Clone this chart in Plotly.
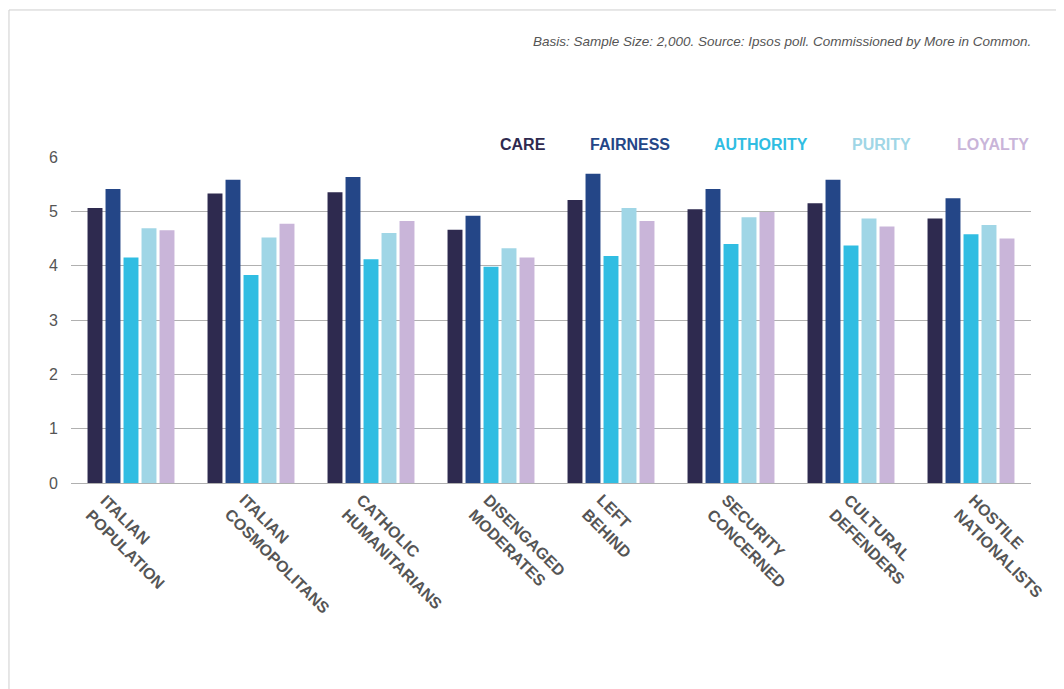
import plotly.graph_objects as go

categories = ["ITALIAN<br>POPULATION", "ITALIAN<br>COSMOPOLITANS", "CATHOLIC<br>HUMANITARIANS",
              "DISENGAGED<br>MODERATES", "LEFT<br>BEHIND", "SECURITY<br>CONCERNED",
              "CULTURAL<br>DEFENDERS", "HOSTILE<br>NATIONALISTS"]
series_names = ["CARE", "FAIRNESS", "AUTHORITY", "PURITY", "LOYALTY"]
care = [5.06, 5.33, 5.35, 4.66, 5.21, 5.04, 5.15, 4.87]
fairness = [5.41, 5.58, 5.63, 4.92, 5.69, 5.41, 5.58, 5.24]
authority = [4.15, 3.83, 4.12, 3.98, 4.18, 4.40, 4.37, 4.58]
purity = [4.69, 4.52, 4.60, 4.32, 5.06, 4.89, 4.87, 4.75]
loyalty = [4.65, 4.77, 4.82, 4.15, 4.82, 4.99, 4.72, 4.50]
colors = ["#2e2a4f", "#244687", "#30bde2", "#a0d6e6", "#c9b5d9"]
y_ticks = [0, 1, 2, 3, 4, 5, 6]

FONT = "Liberation Sans, Arial, sans-serif"

fig = go.Figure()
for name, vals, col in zip(series_names, [care, fairness, authority, purity, loyalty], colors):
    fig.add_trace(go.Bar(x=categories, y=vals, name=name, marker=dict(color=col, line=dict(width=0)),
                         showlegend=False))

# rotated category labels (placed as annotations to match reference offsets)
label_dx = [-50, -31, -34, -27, -34, -29, -26, -22]
for cat, dx in zip(categories, label_dx):
    fig.add_annotation(text="<b>%s</b>" % cat, x=cat, y=0, xref="x", yref="paper",
                       xanchor="left", yanchor="top", xshift=dx, yshift=-7, textangle=45,
                       align="left", showarrow=False, borderpad=0,
                       font=dict(family=FONT, size=16, color="#555555"))

# custom legend as annotations
legend_right = [0.497, 0.626, 0.770, 0.877, 0.9995]
for name, col, xr in zip(series_names, colors, legend_right):
    fig.add_annotation(text="<b>%s</b>" % name, x=xr, y=1.0, xref="paper", yref="paper",
                       xanchor="right", yanchor="bottom", yshift=2, showarrow=False,
                       font=dict(family=FONT, size=16, color=col))

fig.add_annotation(text="<i>Basis: Sample Size: 2,000. Source: Ipsos poll. Commissioned by More in Common.</i>",
                   x=1.0025, y=1.354, xref="paper", yref="paper", xanchor="right", yanchor="middle",
                   showarrow=False, font=dict(family=FONT, size=13.5, color="#555555"))

# page frame
fig.add_shape(type="line", xref="paper", yref="paper", x0=-0.0646, x1=1.04, y0=1.451, y1=1.451,
              line=dict(color="#cfcfcf", width=1))
fig.add_shape(type="line", xref="paper", yref="paper", x0=-0.0646, x1=-0.0646, y0=1.451, y1=-0.64,
              line=dict(color="#cfcfcf", width=1))

fig.update_layout(
    width=1056, height=681,
    margin=dict(l=63, r=33, t=149, b=206),
    paper_bgcolor="white", plot_bgcolor="white",
    barmode="group", bargap=0.25, bargroupgap=0.17,
    font=dict(family=FONT),
)
fig.update_xaxes(range=[-0.5, len(categories) - 0.5], autorange=False, showticklabels=False,
                 showgrid=False, showline=False, ticks="")
fig.update_yaxes(range=[0, 6], tickvals=y_ticks, showgrid=True, gridcolor="#b0b0b0", gridwidth=1,
                 zeroline=True, zerolinecolor="#b0b0b0", zerolinewidth=1, showline=False, ticks="",
                 tickfont=dict(size=16, color="#555555"), ticklabelstandoff=12)

fig.write_html("out.html")
